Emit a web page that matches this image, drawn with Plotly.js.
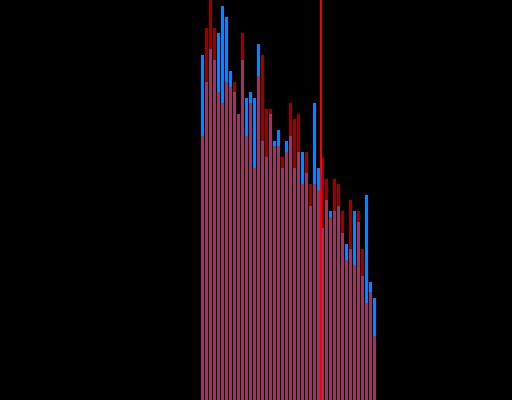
<!DOCTYPE html>
<html>
<head>
<meta charset="utf-8">
<script src="https://cdn.plot.ly/plotly-3.0.1.min.js"></script>
<style>html,body{margin:0;padding:0;background:#000;}#chart{width:512px;height:400px;}</style>
</head>
<body>
<div id="chart"></div>
<script>
var categories = [0,1,2,3,4,5,6,7,8,9,10,11,12,13,14,15,16,17,18,19,20,21,22,23,24,25,26,27,28,29,30,31,32,33,34,35,36,37,38,39,40,41,42,43];
var blueValues = [345,318,351,340,367,394,383,329,308,286,340,302,308,302,356,259,243,286,259,270,232,259,264,232,248,248,227,194,297,232,172,200,189,189,194,167,156,151,189,178,124,205,118,102];
var redValues  = [264,372,410,372,308,297,318,313,318,286,367,264,297,232,324,345,291,291,254,254,243,248,297,281,286,216,248,216,216,210,243,221,183,221,216,189,140,200,135,189,151,97,108,64];
var markerX = 29.6;

var traces = [
  {type:'bar', x:categories, y:blueValues, marker:{color:'#0088ff', line:{width:0}}, hoverinfo:'none'},
  {type:'bar', x:categories, y:redValues, marker:{color:'#ff0000', line:{width:0}}, opacity:0.6, hoverinfo:'none'}
];
var layout = {
  width:512, height:400,
  margin:{l:0,r:0,t:0,b:0,pad:0},
  paper_bgcolor:'#000', plot_bgcolor:'#000',
  barmode:'overlay', bargap:0.25,
  showlegend:false,
  xaxis:{range:[-50.625,77.375], showgrid:false, zeroline:false, showticklabels:false, showline:false, ticks:''},
  yaxis:{range:[0,400], showgrid:false, zeroline:false, showticklabels:false, showline:false, ticks:''},
  shapes:[{type:'line', xref:'x', yref:'paper', x0:markerX, x1:markerX, y0:0, y1:1, line:{color:'#ff0000', width:2}}]
};
Plotly.newPlot('chart', traces, layout, {staticPlot:true, displayModeBar:false});
</script>
</body>
</html>
